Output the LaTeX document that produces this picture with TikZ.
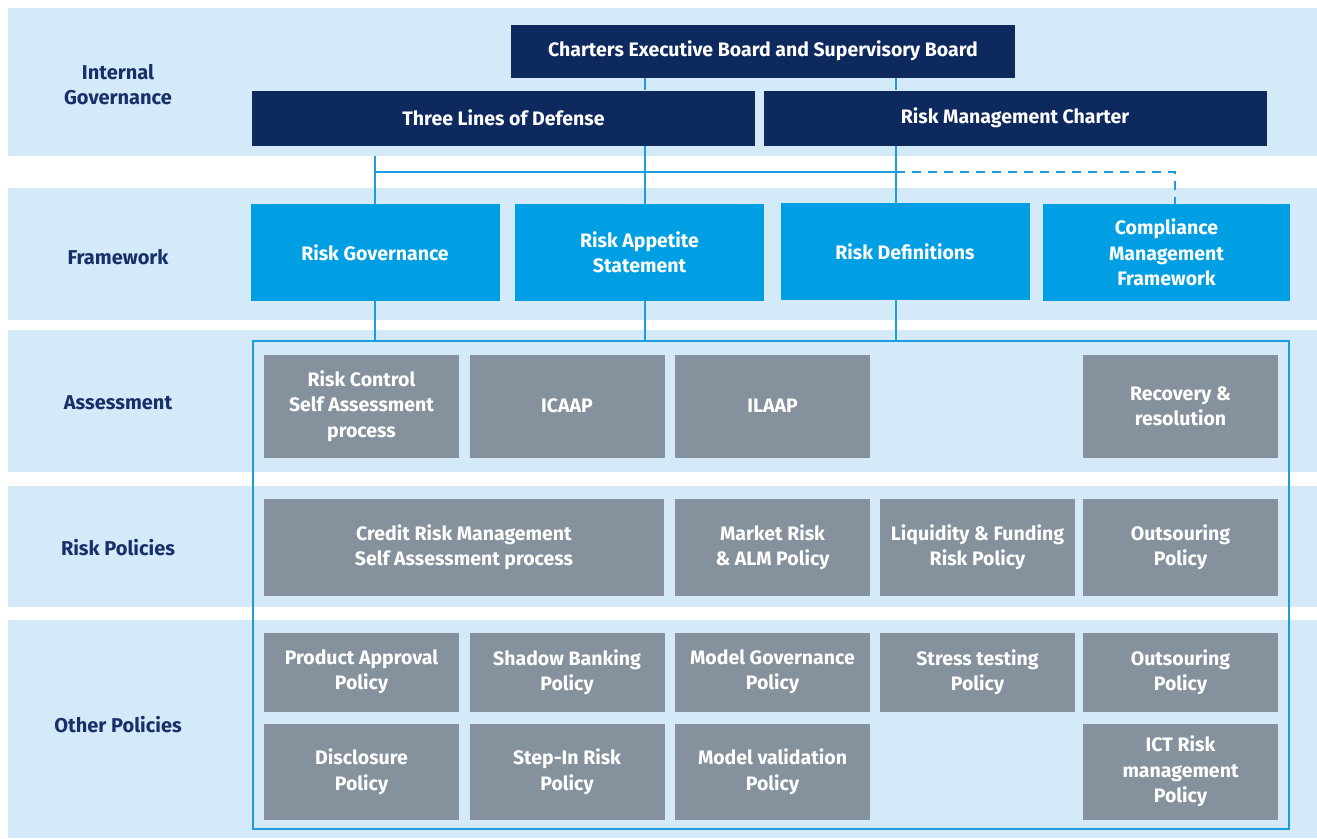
\documentclass[tikz,border=0pt]{standalone}
\usepackage{fontspec}
\setmainfont{Fira Sans}
\definecolor{navy}{HTML}{0E295E}
\definecolor{skyblue}{HTML}{009FE3}
\definecolor{bandblue}{HTML}{D4EAF8}
\definecolor{linkblue}{HTML}{1B9DE0}
\definecolor{slate}{HTML}{85919C}
\definecolor{labelnavy}{HTML}{17306A}
\tikzset{
  navybox/.style={fill=navy, text=white, font=\bfseries\fontsize{19.5}{25}\selectfont, align=center, inner sep=0pt},
  fwbox/.style={fill=skyblue, text=white, font=\bfseries\fontsize{19.5}{25.5}\selectfont, align=center, inner sep=0pt, minimum width=249, minimum height=97},
  greybox/.style={fill=slate, text=white, font=\bfseries\fontsize{19.5}{25.5}\selectfont, align=center, inner sep=0pt, minimum width=195},
  rowlabel/.style={text=labelnavy, font=\bfseries\fontsize{20}{25}\selectfont, align=center},
  band/.style={fill=bandblue},
  link/.style={draw=linkblue, line width=2pt},
  frame/.style={draw=linkblue, line width=2pt, inner sep=0pt}
}

\begin{document}
\begin{tikzpicture}[x=1pt, y=-1pt]
\useasboundingbox (0,0) rectangle (1317,838);
% row bands
\fill[band] (8,8) rectangle (1317,156);
\fill[band] (8,188) rectangle (1317,320);
\fill[band] (8,330) rectangle (1317,472);
\fill[band] (8,486) rectangle (1317,607);
\fill[band] (8,620) rectangle (1317,838);

\node[rowlabel] (lgov) at (118,84.5) {Internal\\Governance};
\node[rowlabel] (lfw) at (118,257) {Framework};
\node[rowlabel] (lass) at (118,403) {Assessment};
\node[rowlabel] (lrp) at (118,548) {Risk Policies};
\node[rowlabel] (lop) at (118,725) {Other Policies};

% internal governance
\node[navybox, minimum width=504, minimum height=53] (gov) at (763,51) {Charters Executive Board and Supervisory Board};
\node[navybox, minimum width=503, minimum height=55] (lod) at (503.5,118) {Three Lines of Defense};
\node[navybox, minimum width=503, minimum height=55] (rmc) at (1015,118) {Risk Management Charter};

% framework
\node[fwbox] (rg) at (375,252.5) {Risk Governance};
\node[fwbox] (ras) at (639.5,252.5) {Risk Appetite\\Statement};
\node[fwbox] (rd) at (905,251.5) {Risk Definitions};
\node[fwbox, minimum width=247] (cmf) at (1166.5,252.5) {Compliance\\Management\\Framework};

% frame round the policies
\node[frame, minimum width=1036, minimum height=488] (box) at (771,585) {};

% assessment
\node[greybox, minimum height=103] (rcsa) at (361.5,406) {Risk Control\\Self Assessment\\process};
\node[greybox, minimum height=103] (icaap) at (567,406) {ICAAP};
\node[greybox, minimum height=103] (ilaap) at (772.5,406) {ILAAP};
\node[greybox, minimum height=103] (rec) at (1180.5,406) {Recovery \&\\resolution};

% risk policies
\node[greybox, minimum width=400, minimum height=97] (crm) at (464,547) {Credit Risk Management\\Self Assessment process};
\node[greybox, minimum height=97] (mkt) at (772.5,547) {Market Risk\\\& ALM Policy};
\node[greybox, minimum height=97] (liq) at (977.5,547) {Liquidity \& Funding\\Risk Policy};
\node[greybox, minimum height=97] (outa) at (1180.5,547) {Outsouring\\Policy};

% other policies
\node[greybox, minimum height=79] (prod) at (361.5,672) {Product Approval\\Policy};
\node[greybox, minimum height=79] (shad) at (567,672) {Shadow Banking\\Policy};
\node[greybox, minimum height=79] (mgov) at (772.5,672) {Model Governance\\Policy};
\node[greybox, minimum height=79] (stress) at (977.5,672) {Stress testing\\Policy};
\node[greybox, minimum height=79] (outb) at (1180.5,672) {Outsouring\\Policy};
\node[greybox, minimum height=96] (disc) at (361.5,771.5) {Disclosure\\Policy};
\node[greybox, minimum height=96] (step) at (567,771.5) {Step-In Risk\\Policy};
\node[greybox, minimum height=96] (mval) at (772.5,771.5) {Model validation\\Policy};
\node[greybox, minimum height=96] (ict) at (1180.5,771.5) {ICT Risk\\management\\Policy};

% connectors
\coordinate (xa) at (645,0);
\coordinate (xb) at (896,0);
\coordinate (top) at (375,156);
\coordinate (ja) at (375,172);
\coordinate (jb) at (896,172);
\coordinate (jc) at (1175,172);
\draw[link] (gov.south -| xa) -- (lod.north -| xa);
\draw[link] (gov.south -| xb) -- (rmc.north -| xb);
\draw[link] (lod.south -| xa) -- (ras.north -| xa);
\draw[link] (rmc.south -| xb) -- (rd.north -| xb);
\draw[link] (top) -- (rg.north);
\draw[link] (ja) -- (jb);
\draw[link, dashed, dash pattern=on 9pt off 7pt] (jb) -- (jc) -- (cmf.north -| jc);
\draw[link] (rg.south) -- (rg.south |- box.north);
\draw[link] (ras.south -| xa) -- (box.north -| xa);
\draw[link] (rd.south -| xb) -- (box.north -| xb);
\end{tikzpicture}
\end{document}
